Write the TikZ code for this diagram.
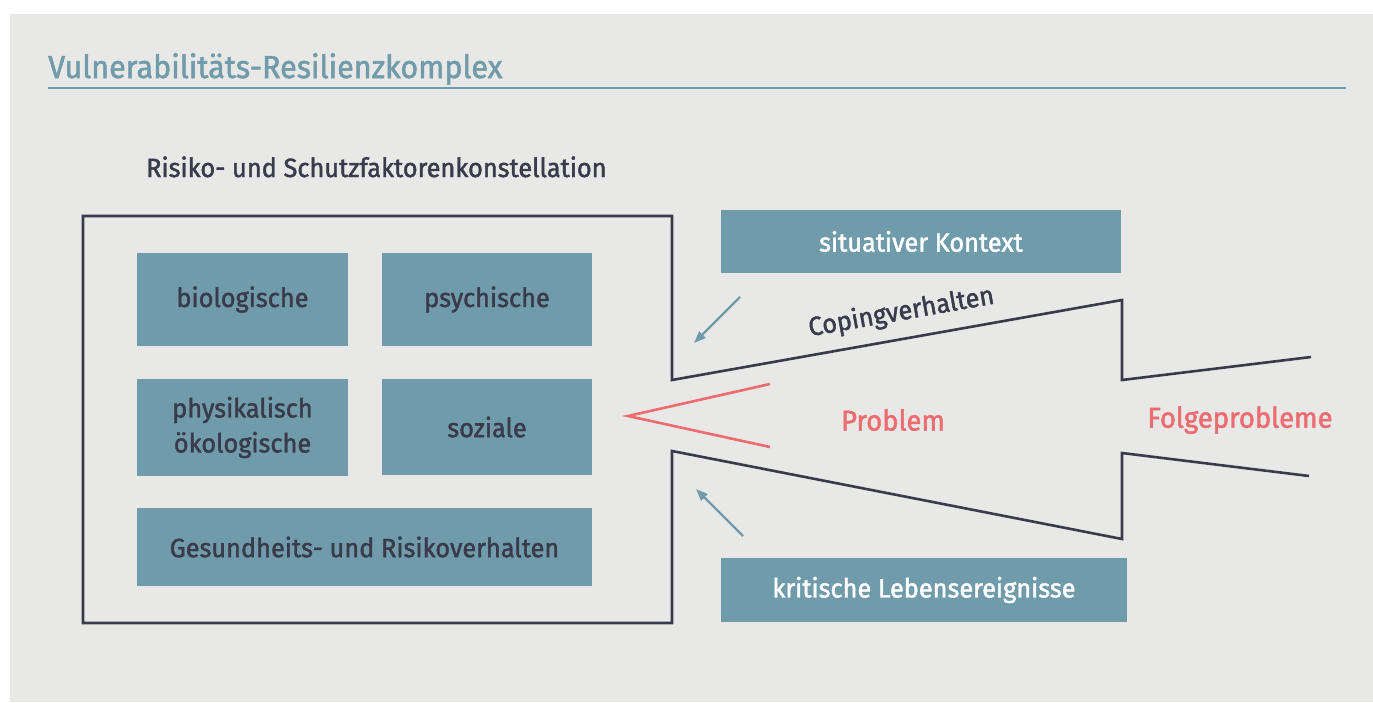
\documentclass[tikz,border=0pt]{standalone}
\usepackage{fontspec}
\setmainfont{Fira Sans}
\newfontfamily\dinfont[FakeStretch=0.96, FakeBold=1.6]{Fira Sans}
\usetikzlibrary{arrows.meta}
\definecolor{bggray}{HTML}{E8E8E6}
\definecolor{teal}{HTML}{709BAA}
\definecolor{darktext}{HTML}{393A4B}
\definecolor{redc}{HTML}{EE6B70}
\tikzset{
  fbox/.style={fill=teal, draw=none, inner sep=0pt, font=\dinfont\fontsize{26.4}{35}\selectfont, text=darktext, align=center},
  wbox/.style={fbox, text=white},
  outline/.style={draw=darktext, line width=2.6pt, line join=miter},
  redline/.style={draw=redc, line width=2.6pt},
  tealarrow/.style={draw=teal, line width=2.2pt, -{Triangle[length=12pt,width=9pt]}},
  lbl/.style={inner sep=0pt, font=\dinfont\fontsize{26.4}{32}\selectfont},
  redlbl/.style={lbl, text=redc, font=\dinfont\fontsize{28.6}{34}\selectfont}
}
\begin{document}
\begin{tikzpicture}[x=1pt, y=-1pt]
\useasboundingbox (0,0) rectangle (1373,702);
\fill[white] (0,0) rectangle (1373,702);
\fill[bggray] (10,14) rectangle (1373,702);
% title
\node[anchor=base west, inner sep=0pt, text=teal, font=\dinfont\fontsize{31.8}{36}\selectfont] (title) at (48,78) {Vulnerabilitäts-Resilienzkomplex};
\coordinate (ul1) at (48,88);
\coordinate (ul2) at (1346,88);
\draw[teal, line width=1.6pt] (ul1) -- (ul2);
% heading
\node[anchor=base west, lbl, text=darktext] (head) at (146,177) {Risiko- und Schutzfaktorenkonstellation};
% boxes
\node[fbox, minimum width=211pt, minimum height=93pt] (bio) at (242.5,299.5) {biologische};
\node[fbox, minimum width=210pt, minimum height=93pt] (psy) at (487,299.5) {psychische};
\node[fbox, minimum width=211pt, minimum height=97pt] (phy) at (242.5,427.5) {physikalisch\\ökologische};
\node[fbox, minimum width=210pt, minimum height=96pt] (soz) at (487,427) {soziale};
\node[fbox, minimum width=455pt, minimum height=78pt] (ges) at (364.5,547) {Gesundheits- und Risikoverhalten};
\node[wbox, minimum width=400pt, minimum height=63pt] (sit) at (921,241.5) {situativer Kontext};
\node[wbox, minimum width=406pt, minimum height=64pt] (krit) at (924,590) {kritische Lebensereignisse};
% outline coordinates
\coordinate (c1) at (83,216);
\coordinate (c2) at (672,216);
\coordinate (c3) at (672,380);
\coordinate (c4) at (1122,300);
\coordinate (c5) at (1122,380);
\coordinate (c6) at (1311,357);
\coordinate (d1) at (83,623);
\coordinate (d2) at (672,623);
\coordinate (d3) at (672,451);
\coordinate (d4) at (1122,539);
\coordinate (d5) at (1122,453);
\coordinate (d6) at (1309,476);
\draw[outline] (c6) -- (c5) -- (c4) -- (c3) -- (c2) -- (c1) -- (d1) -- (d2) -- (d3) -- (d4) -- (d5) -- (d6);
% coping label
\path (c3) -- (c4) node[pos=0.52, sloped, above=13pt, lbl, text=darktext] (cop) {Copingverhalten};
% red chevron
\coordinate (r1) at (770,384);
\coordinate (r2) at (628,416);
\coordinate (r3) at (770,447);
\draw[redline] (r1) -- (r2) -- (r3);
\node[redlbl] (prob) at (893,420) {Problem};
\node[redlbl] (folge) at (1240,420) {Folgeprobleme};
% arrows
\coordinate (a1) at (740,297);
\coordinate (a2) at (694,343);
\draw[tealarrow] (a1) -- (a2);
\coordinate (b1) at (743,536);
\coordinate (b2) at (696,489);
\draw[tealarrow] (b1) -- (b2);
\end{tikzpicture}
\end{document}
